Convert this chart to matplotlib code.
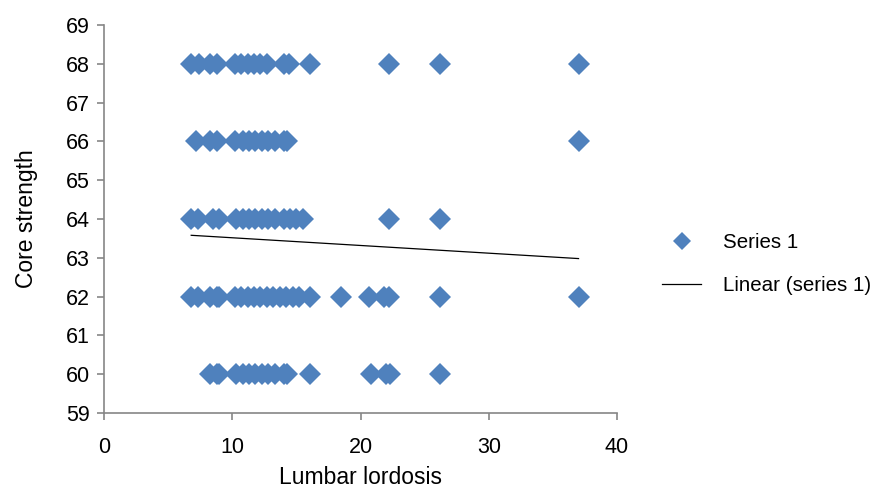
import matplotlib
matplotlib.use("Agg")
import matplotlib.pyplot as plt

# Data (Lumbar lordosis, Core strength)
x68 = [6.8, 7.4, 8.3, 8.8, 10.2, 10.7, 11.2, 11.7, 12.2, 12.7, 14.0, 14.4, 16.1, 22.2, 26.2, 37.0]
x66 = [7.2, 8.3, 8.8, 10.2, 10.8, 11.3, 11.8, 12.3, 12.8, 13.3, 14.0, 14.3, 37.0]
x64 = [6.8, 7.3, 8.5, 9.0, 10.3, 10.8, 11.3, 11.8, 12.3, 12.8, 13.3, 14.0, 14.5, 15.0, 15.5, 22.2, 26.2]
x62 = [6.8, 7.3, 8.3, 8.8, 9.0, 10.2, 10.7, 11.2, 11.7, 12.2, 12.7, 13.2, 13.7, 14.2, 14.7,
       15.2, 16.1, 18.5, 20.7, 21.8, 22.2, 26.2, 37.0]
x60 = [8.3, 8.8, 9.0, 10.3, 10.8, 11.3, 11.8, 12.3, 12.8, 13.3, 14.0, 14.3, 16.1, 20.8, 22.0, 22.3, 26.2]
rows = {68: x68, 66: x66, 64: x64, 62: x62, 60: x60}

trend_x = [6.8, 37.0]
trend_y = [63.58, 62.98]

xticks = [0, 10, 20, 30, 40]
yticks = list(range(59, 70))

blue = "#4F81BD"
gray = "#868686"
FS = 15.5

fig = plt.figure(figsize=(8.79, 4.91), dpi=100)
ax = fig.add_axes([104/879, 1-413/491, (617-104)/879, (413-25)/491])

xs, ys = [], []
for yv, xl in rows.items():
    xs += xl
    ys += [yv] * len(xl)
ax.plot(xs, ys, linestyle="none", marker="D", markersize=11.3, color=blue,
        markeredgewidth=0, label="Series 1")
ax.plot(trend_x, trend_y, color="black", linewidth=0.9, label="Linear (series 1)")

ax.set_xlim(0, 40)
ax.set_ylim(59, 69)
ax.set_xticks(xticks)
ax.set_yticks(yticks)
for s in ["top", "right"]:
    ax.spines[s].set_visible(False)
for s in ["left", "bottom"]:
    ax.spines[s].set_color(gray)
    ax.spines[s].set_linewidth(1.2)
ax.tick_params(axis="both", colors=gray, labelcolor="black", labelsize=FS,
               length=5, width=1.2)
ax.tick_params(axis="x", pad=12)
ax.tick_params(axis="y", pad=5)
ax.set_xlabel("Lumbar lordosis", fontsize=16.5, labelpad=6)
ax.set_ylabel("Core strength", fontsize=16.5, labelpad=20)

for t in ax.get_xticklabels() + ax.get_yticklabels():
    t.set_fontfamily("Liberation Sans")
ax.xaxis.label.set_fontfamily("Liberation Sans")
ax.yaxis.label.set_fontfamily("Liberation Sans")

leg = fig.legend(loc="center left", bbox_to_anchor=(644/879, 1-264/491), frameon=False,
                 prop={"family": "Liberation Sans", "size": 14.8}, handlelength=1.85,
                 labelspacing=1.15, handletextpad=1.1, markerscale=0.85)

fig.savefig("out.png", dpi=100)
